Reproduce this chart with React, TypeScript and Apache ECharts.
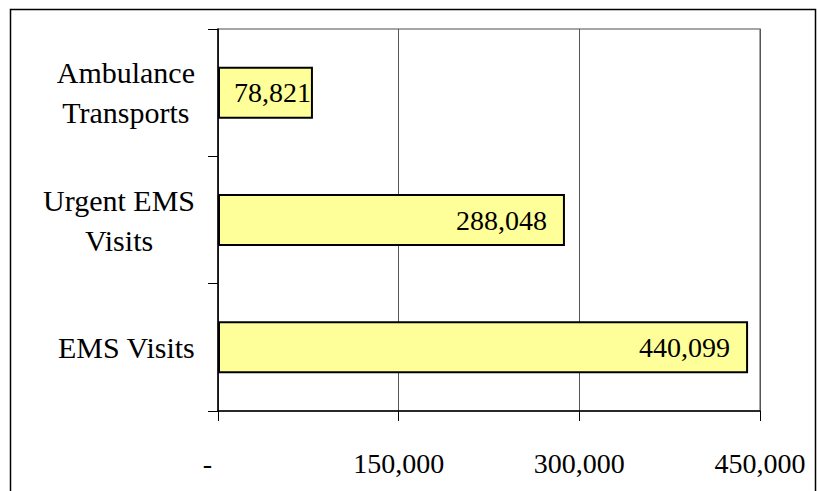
import React, { useEffect, useRef } from "react";
import * as echarts from "echarts";

// Bottom-to-top order on the category axis
const categories = ["EMS Visits", "Urgent EMS Visits", "Ambulance Transports"];
const categoryLines = ["EMS Visits", "Urgent EMS\nVisits", "Ambulance\nTransports"];
const visits = [440099, 288048, 78821];
const axisMin = 0;
const axisMax = 450000;
const axisStep = 150000;

const FONT = "Times New Roman";

export default function App() {
  const ref = useRef<HTMLDivElement>(null);

  useEffect(() => {
    document.body.style.margin = "0";
    const chart = echarts.init(ref.current!, null, { renderer: "svg" });
    const fmt = (v: number) => (v === 0 ? "-" : v.toLocaleString("en-US"));

    chart.setOption({
      animation: false,
      backgroundColor: "#fff",
      textStyle: { fontFamily: FONT },
      graphic: [
        {
          type: "rect",
          shape: { x: 10.5, y: 9.5, width: 805, height: 500 },
          style: { fill: "none", stroke: "#000", lineWidth: 1.5 },
          silent: true,
          z: 100,
        },
      ],
      grid: {
        left: 218,
        right: 57,
        top: 29,
        bottom: 80,
        outerBoundsMode: "none",
        containLabel: false,
        show: true,
        borderColor: "#888",
        borderWidth: 1.5,
      },
      xAxis: {
        type: "value",
        min: axisMin,
        max: axisMax,
        interval: axisStep,
        axisLine: { show: true, lineStyle: { color: "#000", width: 1.5 } },
        axisTick: { show: true, inside: false, length: 10, lineStyle: { color: "#000" } },
        splitLine: { show: true, lineStyle: { color: "#555", width: 1 } },
        axisLabel: {
          margin: 38,
          fontFamily: FONT,
          fontSize: 28,
          color: "#000",
          formatter: (v: number) => (v === 0 ? "-   " : fmt(v)),
        },
      },
      yAxis: {
        type: "category",
        data: categories,
        axisLine: { show: true, lineStyle: { color: "#000", width: 1.5 } },
        axisTick: { show: true, inside: false, length: 10, lineStyle: { color: "#000" } },
        axisLabel: {
          margin: 23,
          fontFamily: FONT,
          fontSize: 30,
          color: "#000",
          lineHeight: 40,
          formatter: (_v: string, i: number) =>
            categoryLines[i]
              .split("\n")
              .map((s) => `{c|${s}}`)
              .join("\n"),
          rich: {
            c: { align: "center", fontFamily: FONT, fontSize: 30, lineHeight: 40, color: "#000" },
          },
        },
      },
      series: [
        {
          type: "bar",
          barWidth: 52,
          data: visits.map((v) => ({
            value: v,
            label: { distance: v < 100000 ? 2 : 18 },
          })),
          itemStyle: { color: "#FFFF99", borderColor: "#000", borderWidth: 2 },
          label: {
            show: true,
            position: "insideRight",
            fontFamily: FONT,
            fontSize: 28,
            color: "#000",
            formatter: (p: any) => fmt(p.value),
          },
        },
      ],
    });

    return () => chart.dispose();
  }, []);

  return (
    <div
      ref={ref}
      style={{ position: "absolute", left: 0, top: 0, width: 817, height: 491 }}
    />
  );
}
